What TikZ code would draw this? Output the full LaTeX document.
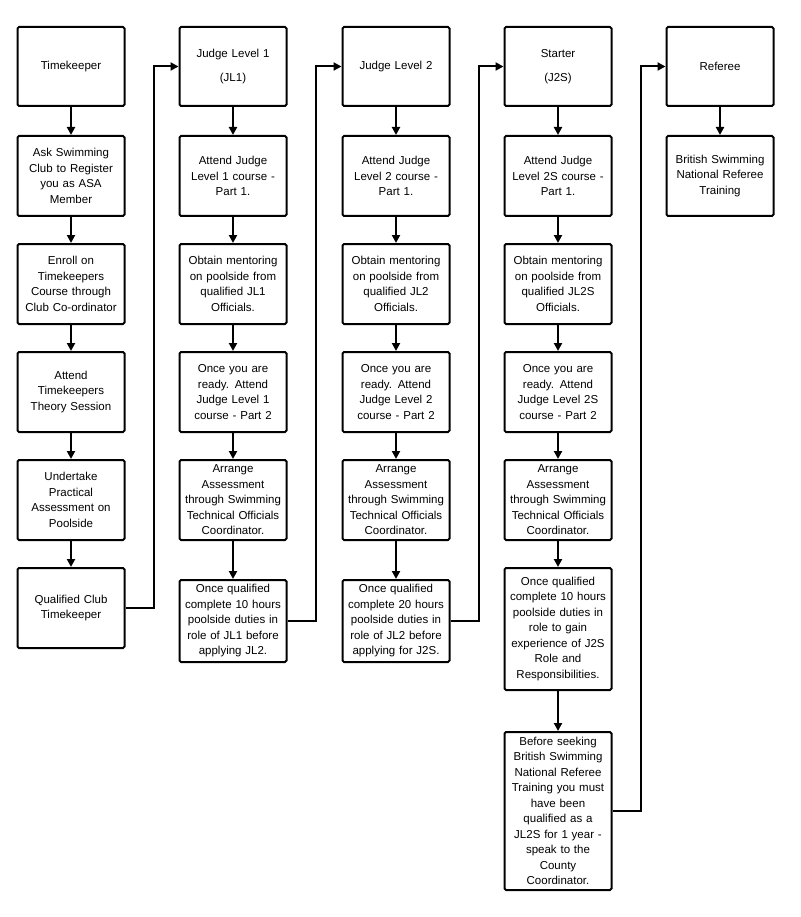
\documentclass[tikz,border=0pt]{standalone}
\usepackage{fontspec}
\setmainfont{Liberation Sans}
\usetikzlibrary{arrows.meta}
\begin{document}
\begin{tikzpicture}[x=1pt,y=-1pt,
 box/.style={draw,line width=2pt,rounded corners=1.5pt,minimum width=107pt,text width=105pt,align=center,inner sep=1pt,font=\fontsize{11.5}{15.5}\selectfont},
 arr/.style={line width=2pt,-{Triangle[length=8pt,width=8pt]}}]
\useasboundingbox (0,0) rectangle (800,917);
% column 1
\node[box,minimum height=79] (a1) at (71,66.5) {Timekeeper};
\node[box,minimum height=80] (a2) at (71,176) {Ask Swimming\\Club to Register\\you as ASA\\Member};
\node[box,minimum height=80] (a3) at (71,284) {Enroll on\\Timekeepers\\Course through\\Club Co-ordinator};
\node[box,minimum height=80] (a4) at (71,392) {Attend\\Timekeepers\\Theory Session};
\node[box,minimum height=80] (a5) at (71,500) {Undertake\\Practical\\Assessment on\\Poolside};
\node[box,minimum height=80] (a6) at (71,608) {Qualified Club\\Timekeeper};
% column 2
\node[box,minimum height=79] (b1) at (233,66.5) {Judge Level 1\\[8pt](JL1)};
\node[box,minimum height=80] (b2) at (233,176) {Attend Judge\\Level 1 course -\\Part 1.};
\node[box,minimum height=80] (b3) at (233,284) {Obtain mentoring\\on poolside from\\qualified JL1\\Officials.};
\node[box,minimum height=80] (b4) at (233,392) {Once you are\\ready. Attend\\Judge Level 1\\course - Part 2};
\node[box,minimum height=80] (b5) at (233,500) {Arrange\\Assessment\\through Swimming\\Technical Officials\\Coordinator.};
\node[box,minimum height=82] (b6) at (233,621) {Once qualified\\complete 10 hours\\poolside duties in\\role of JL1 before\\applying JL2.};
% column 3
\node[box,minimum height=79] (c1) at (396,66.5) {Judge Level 2};
\node[box,minimum height=80] (c2) at (396,176) {Attend Judge\\Level 2 course -\\Part 1.};
\node[box,minimum height=80] (c3) at (396,284) {Obtain mentoring\\on poolside from\\qualified JL2\\Officials.};
\node[box,minimum height=80] (c4) at (396,392) {Once you are\\ready. Attend\\Judge Level 2\\course - Part 2};
\node[box,minimum height=80] (c5) at (396,500) {Arrange\\Assessment\\through Swimming\\Technical Officials\\Coordinator.};
\node[box,minimum height=82] (c6) at (396,621) {Once qualified\\complete 20 hours\\poolside duties in\\role of JL2 before\\applying for J2S.};
% column 4
\node[box,minimum height=79] (d1) at (558,66.5) {Starter\\[8pt](J2S)};
\node[box,minimum height=80] (d2) at (558,176) {Attend Judge\\Level 2S course -\\Part 1.};
\node[box,minimum height=80] (d3) at (558,284) {Obtain mentoring\\on poolside from\\qualified JL2S\\Officials.};
\node[box,minimum height=80] (d4) at (558,392) {Once you are\\ready. Attend\\Judge Level 2S\\course - Part 2};
\node[box,minimum height=80] (d5) at (558,500) {Arrange\\Assessment\\through Swimming\\Technical Officials\\Coordinator.};
\node[box,minimum height=122] (d6) at (558,629) {Once qualified\\complete 10 hours\\poolside duties in\\role to gain\\experience of J2S\\Role and\\Responsibilities.};
\node[box,minimum height=158] (d7) at (558,811) {Before seeking\\British Swimming\\National Referee\\Training you must\\have been\\qualified as a\\JL2S for 1 year -\\speak to the\\County\\Coordinator.};
% column 5
\node[box,minimum height=79] (e1) at (720,66.5) {Referee};
\node[box,minimum height=80] (e2) at (720,176) {British Swimming\\National Referee\\Training};
% vertical arrows
\foreach \c/\n in {a/6,b/6,c/6,d/7,e/2}{
  \foreach \i [evaluate=\i as \j using int(\i+1)] in {1,...,\n}{
    \pgfmathtruncatemacro{\k}{\i+1}
    \ifnum\k>\n\else\draw[arr] (\c\i) -- (\c\k);\fi
  }
}
% column links
\draw[arr] (a6.east) -- ++(28,0) |- (b1.west);
\draw[arr] (b6.east) -- ++(28,0) |- (c1.west);
\draw[arr] (c6.east) -- ++(28,0) |- (d1.west);
\draw[arr] (d7.east) -- ++(28,0) |- (e1.west);
\end{tikzpicture}
\end{document}
